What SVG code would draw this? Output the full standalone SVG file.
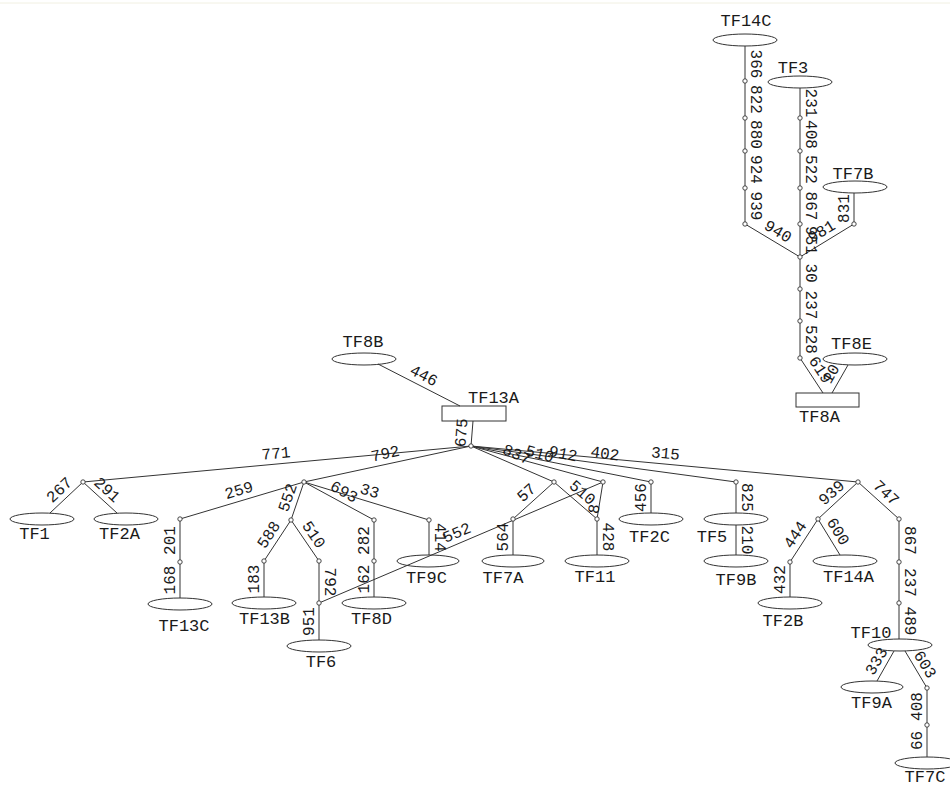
<svg xmlns="http://www.w3.org/2000/svg" width="950" height="786" viewBox="0 0 950 786">
<style>
.e{fill:#fff;stroke:#333;stroke-width:1}
.b{fill:#fff;stroke:#333;stroke-width:1}
.nl{font-family:"Liberation Mono",monospace;font-size:17px;fill:#1a1a1a;text-anchor:middle}
.c{fill:none;stroke:#333;stroke-width:1}
.j{fill:#fff;stroke:#333;stroke-width:0.9}
.el{font-family:"Liberation Mono",monospace;font-size:16px;fill:#1a1a1a;text-anchor:middle}
</style>
<rect width="950" height="786" fill="#fff"/>
<line x1="0" y1="3" x2="950" y2="3" stroke="#f1f0e2" stroke-width="1"/>
<g id="nodes">
<g id="TF14C"><ellipse class="e" cx="745" cy="40" rx="32" ry="6"/><text class="nl" x="746" y="26">TF14C</text></g>
<g id="TF3"><ellipse class="e" cx="800" cy="82" rx="32" ry="6"/><text class="nl" x="793" y="73">TF3</text></g>
<g id="TF7B"><ellipse class="e" cx="855" cy="187" rx="32" ry="6"/><text class="nl" x="853" y="179">TF7B</text></g>
<g id="TF8E"><ellipse class="e" cx="855" cy="359" rx="32" ry="6"/><text class="nl" x="851.5" y="349">TF8E</text></g>
<g id="TF8A"><rect class="b" x="796" y="393" width="63" height="14"/><text class="nl" x="819.5" y="422">TF8A</text></g>
<g id="TF8B"><ellipse class="e" cx="364" cy="359" rx="32" ry="6"/><text class="nl" x="363" y="347">TF8B</text></g>
<g id="TF13A"><rect class="b" x="442" y="406" width="64" height="15"/><text class="nl" x="493.5" y="403">TF13A</text></g>
<g id="TF1"><ellipse class="e" cx="42" cy="519" rx="32" ry="6"/><text class="nl" x="34.5" y="539">TF1</text></g>
<g id="TF2A"><ellipse class="e" cx="126" cy="519" rx="32" ry="6"/><text class="nl" x="119.5" y="539">TF2A</text></g>
<g id="TF13C"><ellipse class="e" cx="180" cy="604" rx="32" ry="6"/><text class="nl" x="184" y="631">TF13C</text></g>
<g id="TF13B"><ellipse class="e" cx="264" cy="603" rx="32" ry="6"/><text class="nl" x="264.5" y="624">TF13B</text></g>
<g id="TF6"><ellipse class="e" cx="319" cy="646" rx="32" ry="6"/><text class="nl" x="321" y="667">TF6</text></g>
<g id="TF8D"><ellipse class="e" cx="374" cy="603" rx="32" ry="6"/><text class="nl" x="371.5" y="624">TF8D</text></g>
<g id="TF9C"><ellipse class="e" cx="428" cy="561" rx="31" ry="6"/><text class="nl" x="426.5" y="583">TF9C</text></g>
<g id="TF7A"><ellipse class="e" cx="513" cy="561" rx="31" ry="6"/><text class="nl" x="503" y="583">TF7A</text></g>
<g id="TF11"><ellipse class="e" cx="597" cy="561" rx="32" ry="6"/><text class="nl" x="595" y="582">TF11</text></g>
<g id="TF2C"><ellipse class="e" cx="651" cy="519" rx="32" ry="6"/><text class="nl" x="649.5" y="542">TF2C</text></g>
<g id="TF5"><ellipse class="e" cx="736" cy="519" rx="32" ry="6"/><text class="nl" x="712" y="542">TF5</text></g>
<g id="TF9B"><ellipse class="e" cx="736" cy="561" rx="32" ry="6"/><text class="nl" x="736" y="585">TF9B</text></g>
<g id="TF14A"><ellipse class="e" cx="845" cy="561" rx="32" ry="6"/><text class="nl" x="848.5" y="582">TF14A</text></g>
<g id="TF2B"><ellipse class="e" cx="790" cy="603" rx="32" ry="6"/><text class="nl" x="783" y="626">TF2B</text></g>
<g id="TF10"><ellipse class="e" cx="900" cy="645" rx="32" ry="6"/><text class="nl" x="871" y="638">TF10</text></g>
<g id="TF9A"><ellipse class="e" cx="872" cy="687" rx="31" ry="6"/><text class="nl" x="871.5" y="708">TF9A</text></g>
<g id="TF7C"><ellipse class="e" cx="927" cy="763" rx="32" ry="6"/><text class="nl" x="925" y="782">TF7C</text></g>
</g>
<g id="connectors">
<path class="c" d="M745,46V224M745,224L800,257M800,88V358M854,193V224M854,224L800,257M800,358L823,393M848,365L832,393"/>
<path class="c" d="M378,364L460,406M473,421L471,446M471,446L83,482M471,446L304,482M471,446L554,482M471,446L603,482M471,446L651,482M471,446L736,482M471,446L858,482"/>
<path class="c" d="M83,482L50,513M83,482L117,513M304,482L180,519M180,519V598M304,482L291,520M291,520L264,561M264,561V597M291,520L319,561M319,561V640M304,482L374,520M374,520V597M304,482L429,520M429,520V555M319,603L603,482"/>
<path class="c" d="M554,482L513,519M513,519V555M554,482L597,519M603,482L597,519M597,519V555M651,482V513M736,482V513M736,525V555"/>
<path class="c" d="M858,482L818,519M818,519L790,562M790,562V597M818,519L840,555M858,482L899,519M899,519V639M894,651L877,681M905,651L927,688M927,688V757"/>
</g>
<g id="junctions">
<circle class="j" cx="745" cy="81" r="2.2"/><circle class="j" cx="745" cy="118" r="2.2"/><circle class="j" cx="745" cy="151" r="2.2"/><circle class="j" cx="745" cy="188" r="2.2"/><circle class="j" cx="745" cy="224" r="2.2"/>
<circle class="j" cx="800" cy="118" r="2.2"/><circle class="j" cx="800" cy="151" r="2.2"/><circle class="j" cx="800" cy="188" r="2.2"/><circle class="j" cx="800" cy="224" r="2.2"/><circle class="j" cx="854" cy="224" r="2.2"/>
<circle class="j" cx="800" cy="257" r="2.2"/><circle class="j" cx="800" cy="289" r="2.2"/><circle class="j" cx="800" cy="321" r="2.2"/><circle class="j" cx="800" cy="358" r="2.2"/>
<circle class="j" cx="471" cy="446" r="2.2"/><circle class="j" cx="83" cy="482" r="2.2"/><circle class="j" cx="304" cy="482" r="2.2"/><circle class="j" cx="180" cy="519" r="2.2"/><circle class="j" cx="180" cy="562" r="2.2"/>
<circle class="j" cx="291" cy="520" r="2.2"/><circle class="j" cx="264" cy="561" r="2.2"/><circle class="j" cx="319" cy="561" r="2.2"/><circle class="j" cx="319" cy="603" r="2.2"/><circle class="j" cx="374" cy="520" r="2.2"/>
<circle class="j" cx="374" cy="561" r="2.2"/><circle class="j" cx="429" cy="520" r="2.2"/><circle class="j" cx="554" cy="482" r="2.2"/><circle class="j" cx="603" cy="482" r="2.2"/><circle class="j" cx="513" cy="519" r="2.2"/>
<circle class="j" cx="597" cy="519" r="2.2"/><circle class="j" cx="651" cy="482" r="2.2"/><circle class="j" cx="736" cy="482" r="2.2"/><circle class="j" cx="858" cy="482" r="2.2"/><circle class="j" cx="818" cy="519" r="2.2"/>
<circle class="j" cx="790" cy="562" r="2.2"/><circle class="j" cx="899" cy="519" r="2.2"/><circle class="j" cx="899" cy="562" r="2.2"/><circle class="j" cx="899" cy="603" r="2.2"/><circle class="j" cx="927" cy="688" r="2.2"/><circle class="j" cx="927" cy="725" r="2.2"/>
</g>
<g id="edge-labels">
<text class="el" y="5" transform="translate(755.5 64) rotate(90)">366</text>
<text class="el" y="5" transform="translate(755.5 99.5) rotate(90)">822</text>
<text class="el" y="5" transform="translate(755.5 134.5) rotate(90)">880</text>
<text class="el" y="5" transform="translate(755.5 169.5) rotate(90)">924</text>
<text class="el" y="5" transform="translate(755.5 206) rotate(90)">939</text>
<text class="el" y="5" transform="translate(810.5 103) rotate(90)">231</text>
<text class="el" y="5" transform="translate(810.5 134.5) rotate(90)">408</text>
<text class="el" y="5" transform="translate(810.5 169.5) rotate(90)">522</text>
<text class="el" y="5" transform="translate(810.5 206) rotate(90)">867</text>
<text class="el" y="5" transform="translate(810.5 240.5) rotate(90)">951</text>
<text class="el" y="5" transform="translate(777.9 231.5) rotate(31)">940</text>
<text class="el" y="5" transform="translate(821.5 231.6) rotate(-31.4)">981</text>
<text class="el" y="5" transform="translate(843.5 208.5) rotate(-90)">831</text>
<text class="el" y="5" transform="translate(810.5 273) rotate(90)">30</text>
<text class="el" y="5" transform="translate(810.5 305) rotate(90)">237</text>
<text class="el" y="5" transform="translate(810.5 339.5) rotate(90)">528</text>
<text class="el" y="5" transform="translate(820.3 369.7) rotate(56.7)">619</text>
<text class="el" y="5" transform="translate(830.9 373.8) rotate(-60.3)">10</text>
<text class="el" y="5" transform="translate(423.8 375.6) rotate(27.1)">446</text>
<text class="el" y="5" transform="translate(461.5 432.7) rotate(-85.4)">675</text>
<text class="el" y="5" transform="translate(276 453.5) rotate(-5.3)">771</text>
<text class="el" y="5" transform="translate(385.3 453.7) rotate(-12.2)">792</text>
<text class="el" y="5" transform="translate(516.7 454.4) rotate(23.4)">837</text>
<text class="el" y="5" transform="translate(539.8 453.9) rotate(15.3)">510</text>
<text class="el" y="5" transform="translate(563.1 453.7) rotate(11.3)">912</text>
<text class="el" y="5" transform="translate(604.9 453.6) rotate(7.7)">402</text>
<text class="el" y="5" transform="translate(665.5 453.5) rotate(5.3)">315</text>
<text class="el" y="5" transform="translate(59.3 489.9) rotate(-43.2)">267</text>
<text class="el" y="5" transform="translate(107.1 489.7) rotate(42.4)">291</text>
<text class="el" y="5" transform="translate(239 490.4) rotate(-16.6)">259</text>
<text class="el" y="5" transform="translate(169.5 540.5) rotate(-90)">201</text>
<text class="el" y="5" transform="translate(169.5 580) rotate(-90)">168</text>
<text class="el" y="5" transform="translate(287.6 497.6) rotate(-71.1)">552</text>
<text class="el" y="5" transform="translate(268.7 534.7) rotate(-56.6)">588</text>
<text class="el" y="5" transform="translate(313.7 534.6) rotate(55.7)">510</text>
<text class="el" y="5" transform="translate(253.5 579) rotate(-90)">183</text>
<text class="el" y="5" transform="translate(329.5 582) rotate(90)">792</text>
<text class="el" y="5" transform="translate(308.5 621.5) rotate(-90)">951</text>
<text class="el" y="5" transform="translate(344 491.8) rotate(28.5)">693</text>
<text class="el" y="5" transform="translate(369.6 491) rotate(16.9)">33</text>
<text class="el" y="5" transform="translate(363.5 540.5) rotate(-90)">282</text>
<text class="el" y="5" transform="translate(363.5 579) rotate(-90)">162</text>
<text class="el" y="5" transform="translate(439.5 537.5) rotate(90)">414</text>
<text class="el" y="5" transform="translate(456.9 532.8) rotate(-23.1)">552</text>
<text class="el" y="5" transform="translate(526.5 492.7) rotate(-42.1)">57</text>
<text class="el" y="5" transform="translate(502.5 537) rotate(-90)">564</text>
<text class="el" y="5" transform="translate(582.4 492.5) rotate(40.7)">510</text>
<text class="el" y="5" transform="translate(594 509) rotate(-80.8)">8</text>
<text class="el" y="5" transform="translate(607.5 537) rotate(90)">428</text>
<text class="el" y="5" transform="translate(640.5 497.5) rotate(-90)">456</text>
<text class="el" y="5" transform="translate(746.5 497.5) rotate(90)">825</text>
<text class="el" y="5" transform="translate(746.5 540) rotate(90)">210</text>
<text class="el" y="5" transform="translate(831.5 492.7) rotate(-42.1)">939</text>
<text class="el" y="5" transform="translate(886.1 492.8) rotate(42.8)">747</text>
<text class="el" y="5" transform="translate(795.2 534.8) rotate(-56.9)">444</text>
<text class="el" y="5" transform="translate(838 531.5) rotate(58.6)">600</text>
<text class="el" y="5" transform="translate(779.5 579.5) rotate(-90)">432</text>
<text class="el" y="5" transform="translate(909.5 540.5) rotate(90)">867</text>
<text class="el" y="5" transform="translate(909.5 582.5) rotate(90)">237</text>
<text class="el" y="5" transform="translate(909.5 621) rotate(90)">489</text>
<text class="el" y="5" transform="translate(876.4 661.2) rotate(-59.6)">333</text>
<text class="el" y="5" transform="translate(925 664.5) rotate(58.6)">603</text>
<text class="el" y="5" transform="translate(916.5 706.5) rotate(-90)">408</text>
<text class="el" y="5" transform="translate(916.5 740.5) rotate(-90)">66</text>
</g>
</svg>
